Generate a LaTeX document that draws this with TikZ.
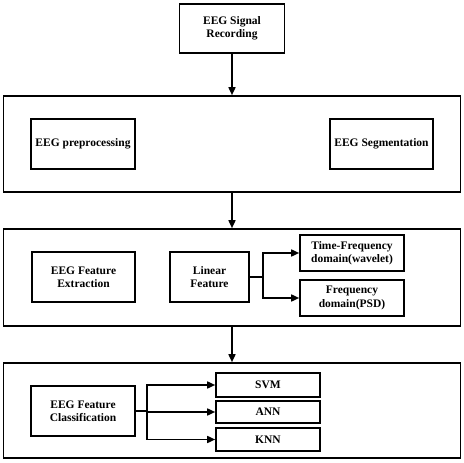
\documentclass[tikz,border=0pt]{standalone}
\usepackage{fontspec}
\setmainfont{Liberation Serif}
\usetikzlibrary{arrows.meta, positioning}

\begin{document}
\begin{tikzpicture}[
    x=1pt,
    y=-1pt,
    font=\fontsize{11.5}{13.5}\selectfont\bfseries,
    >={Triangle[length=8pt,width=7pt]},
    line width=1.6pt,
    box/.style={
        draw,
        fill=white,
        align=center,
        inner sep=2pt,
        minimum width=104pt,
        minimum height=50pt
    },
    panel/.style={
        draw,
        minimum width=457pt,
        inner sep=0pt
    },
    smallbox/.style={
        box,
        minimum height=36pt
    },
    clsbox/.style={
        box,
        minimum height=23pt
    },
    arr/.style={->, line width=1.6pt}
]
\useasboundingbox (0,0) rectangle (464,463);

% Signal recording
\node[box, minimum width=105pt, minimum height=49pt] (rec) at (232,28.5)
    {EEG Signal\\Recording};

% Stage 1: preprocessing / segmentation
\node[panel, minimum height=96pt] (panelA) at (232,144) {};
\node[box] (pre) at (83,144) {EEG preprocessing};
\node[box, minimum width=103pt] (seg) at (381.5,144) {EEG Segmentation};

% Stage 2: feature extraction
\node[panel, minimum height=97pt] (panelB) at (232,277.5) {};
\node[box, minimum width=103pt] (ext) at (83.5,277) {EEG Feature\\Extraction};
\node[box, minimum width=79pt] (lin) at (209.5,277) {Linear\\Feature};
\node[smallbox] (tf) at (352,253) {Time-Frequency\\domain(wavelet)};
\node[smallbox] (fd) at (352,298) {Frequency\\domain(PSD)};

% Stage 3: classification
\node[panel, minimum height=95pt] (panelC) at (232,410.5) {};
\node[box] (cls) at (83,411) {EEG Feature\\Classification};
\node[clsbox, minimum height=24pt] (svm) at (268,385) {SVM};
\node[clsbox, minimum height=22pt] (ann) at (268,412) {ANN};
\node[clsbox] (knn) at (268,439.5) {KNN};

% Flow between stages
\draw[arr] (rec.south) -- (panelA.north);
\draw[arr] (panelA.south) -- (panelB.north);
\draw[arr] (panelB.south) -- (panelC.north);

% Branches
\draw[arr] (lin.east) -- ++(13,0) |- (tf.west);
\draw[arr] (lin.east) -- ++(13,0) |- (fd.west);

\draw[arr] (cls.east) -- ++(11,0) |- (svm.west);
\draw[arr] (cls.east) -- ++(11,0) |- (ann.west);
\draw[arr] (cls.east) -- ++(11,0) |- (knn.west);

\end{tikzpicture}
\end{document}
